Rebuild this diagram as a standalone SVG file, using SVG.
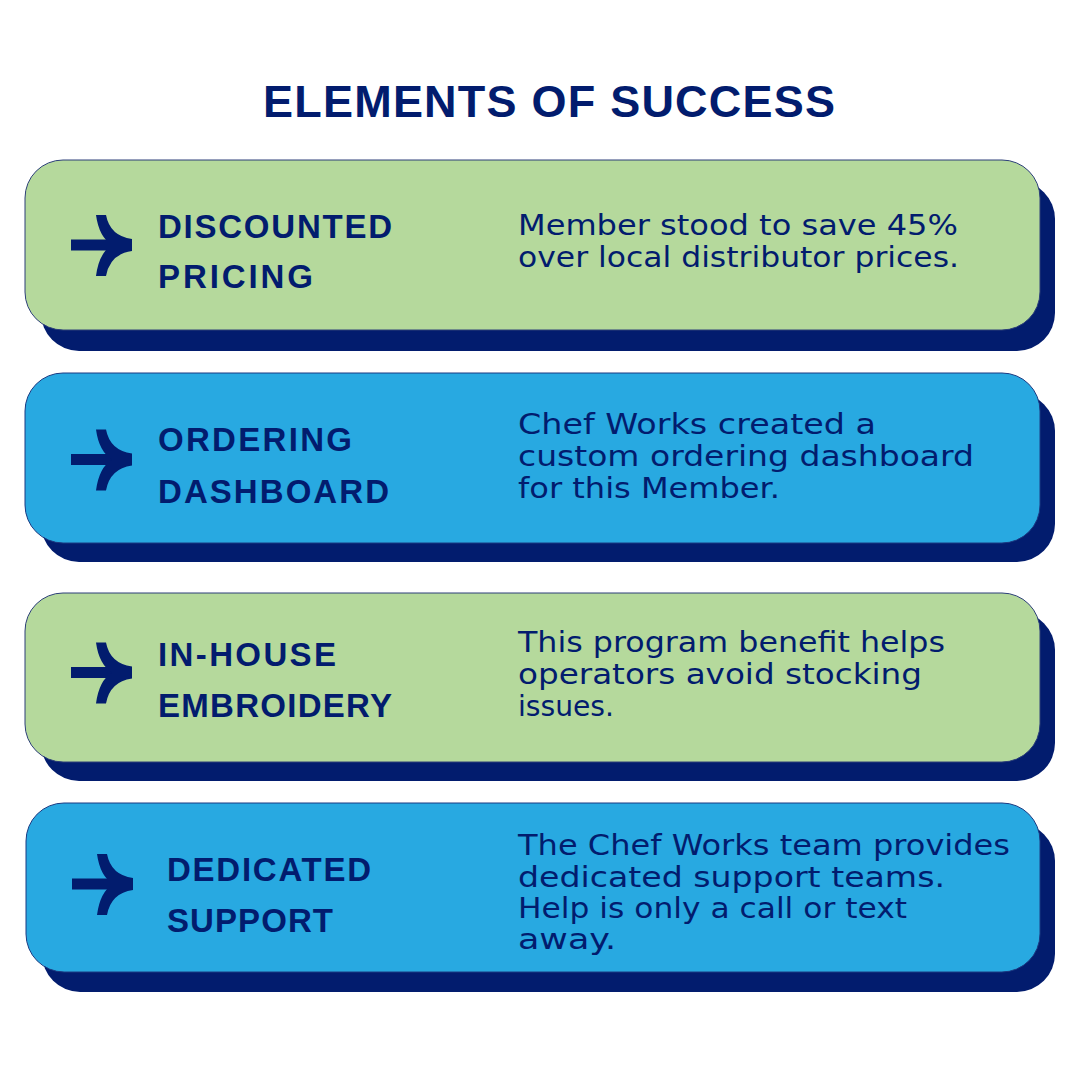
<svg xmlns="http://www.w3.org/2000/svg" xmlns:xlink="http://www.w3.org/1999/xlink" width="1080" height="1080" viewBox="0 0 1080 1080">
  <style>
    .bg { fill: #ffffff; }
    .shadow { fill: #021c6e; }
    .green { fill: #b5d99c; stroke: #2c3f78; stroke-width: 1; }
    .blue { fill: #28a9e1; stroke: #1b3a82; stroke-width: 1; }
    .navy { fill: #021c6e; }
    .title { font-family: "Liberation Sans", Arial, sans-serif; font-weight: bold; font-size: 45px; fill: #021c6e; }
    .label { font-family: "Liberation Sans", Arial, sans-serif; font-weight: bold; font-size: 33px; fill: #021c6e; }
    .body { font-family: "DejaVu Sans", "Liberation Sans", sans-serif; font-size: 29px; fill: #021c6e; }
  </style>
  <defs>
    <g id="arrow">
      <rect x="71" y="-5.5" width="61" height="11" class="navy"/>
      <path class="navy" d="M96,-30 L106,-30 Q110,-9 132,-6 L132,6 Q110,9 106,31 L96,31 Q99,8 112,0 Q99,-8 96,-30 Z"/>
    </g>
  </defs>
  <rect class="bg" x="0" y="0" width="1080" height="1080"/>

  <g id="title">
    <text class="title" x="263" y="117" textLength="572">ELEMENTS OF SUCCESS</text>
  </g>

  <g id="card-discounted-pricing">
    <rect class="shadow" x="41" y="181" width="1014" height="170" rx="38"/>
    <rect class="green" x="25" y="160" width="1015" height="170" rx="38"/>
    <use xlink:href="#arrow" href="#arrow" transform="translate(0,245)"/>
    <text class="label" x="158" y="238" textLength="234">DISCOUNTED</text>
    <text class="label" x="158" y="288" textLength="155">PRICING</text>
    <text class="body" x="518" y="235" textLength="440" lengthAdjust="spacingAndGlyphs">Member stood to save 45%</text>
    <text class="body" x="518" y="267" textLength="441" lengthAdjust="spacingAndGlyphs">over local distributor prices.</text>
  </g>

  <g id="card-ordering-dashboard">
    <rect class="shadow" x="41" y="393" width="1014" height="169" rx="38"/>
    <rect class="blue" x="25" y="373" width="1015" height="170" rx="38"/>
    <use xlink:href="#arrow" href="#arrow" transform="translate(0,459.5)"/>
    <text class="label" x="158" y="451" textLength="194">ORDERING</text>
    <text class="label" x="158" y="503" textLength="231">DASHBOARD</text>
    <text class="body" x="518" y="434" textLength="358" lengthAdjust="spacingAndGlyphs">Chef Works created a</text>
    <text class="body" x="518" y="466" textLength="456" lengthAdjust="spacingAndGlyphs">custom ordering dashboard</text>
    <text class="body" x="518" y="498" textLength="262" lengthAdjust="spacingAndGlyphs">for this Member.</text>
  </g>

  <g id="card-in-house-embroidery">
    <rect class="shadow" x="41" y="612" width="1014" height="169" rx="38"/>
    <rect class="green" x="25" y="593" width="1015" height="169" rx="38"/>
    <use xlink:href="#arrow" href="#arrow" transform="translate(0,672.5)"/>
    <text class="label" x="158" y="666" textLength="178">IN-HOUSE</text>
    <text class="label" x="158" y="717" textLength="234">EMBROIDERY</text>
    <text class="body" x="518" y="652" textLength="427" lengthAdjust="spacingAndGlyphs">This program benefit helps</text>
    <text class="body" x="518" y="684" textLength="404" lengthAdjust="spacingAndGlyphs">operators avoid stocking</text>
    <text class="body" x="518" y="716" textLength="96" lengthAdjust="spacingAndGlyphs">issues.</text>
  </g>

  <g id="card-dedicated-support">
    <rect class="shadow" x="42" y="823" width="1013" height="169" rx="38"/>
    <rect class="blue" x="26" y="803" width="1014" height="169" rx="38"/>
    <use xlink:href="#arrow" href="#arrow" transform="translate(1,884)"/>
    <text class="label" x="167" y="881" textLength="204">DEDICATED</text>
    <text class="label" x="167" y="932" textLength="166">SUPPORT</text>
    <text class="body" x="518" y="855" textLength="492" lengthAdjust="spacingAndGlyphs">The Chef Works team provides</text>
    <text class="body" x="518" y="887" textLength="427" lengthAdjust="spacingAndGlyphs">dedicated support teams.</text>
    <text class="body" x="518" y="918" textLength="389" lengthAdjust="spacingAndGlyphs">Help is only a call or text</text>
    <text class="body" x="518" y="949" textLength="98" lengthAdjust="spacingAndGlyphs">away.</text>
  </g>
</svg>
